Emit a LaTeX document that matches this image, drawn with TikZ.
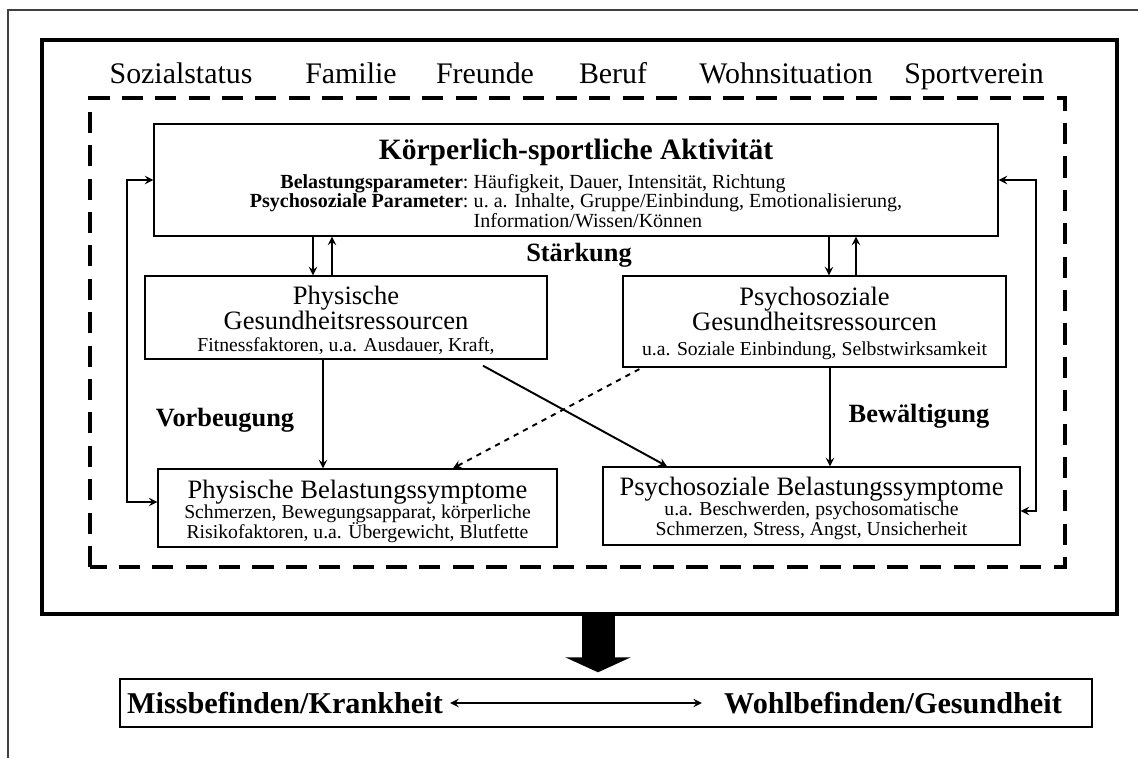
\documentclass[tikz,border=0pt]{standalone}
\usepackage{fontspec}
\setmainfont{Liberation Serif}
\usetikzlibrary{arrows,arrows.meta,positioning}
\newcommand{\akttitle}{\fontsize{16.8}{18}\selectfont\bfseries}
\newcommand{\paramsize}{\fontsize{11.4}{10.8}\selectfont}
\newcommand{\detailsize}{\fontsize{11.2}{12}\selectfont}
\tikzset{
    % Define node styles
    ctxlabel/.style={
        font=\fontsize{17}{20}\selectfont, inner sep=0pt, anchor=base
    },
    mainbox/.style={
        rectangle, draw, line width=0.8pt, inner sep=0pt,
        align=center, font=\fontsize{11.4}{14.8}\selectfont
    },
    resbox/.style={
        rectangle, draw, line width=0.8pt, inner sep=0pt,
        align=center, font=\fontsize{15.1}{14.2}\selectfont
    },
    effectlabel/.style={
        font=\fontsize{15}{18}\selectfont\bfseries, inner sep=0pt
    },
    outcomelabel/.style={
        font=\fontsize{17.2}{20}\selectfont\bfseries, inner sep=0pt
    },
    arrow/.style={
        ->, >=stealth, line width=1.1pt
    },
    fbarrow/.style={
        <->, >=stealth, line width=1.1pt
    }
}
\begin{document}
\begin{tikzpicture}
\useasboundingbox (0,0) rectangle (22.76,15.16);

% Page lines
\draw[line width=0.6pt, black!75] (0.16,0) -- (0.16,14.96) -- (22.76,14.96);

% Setting frame and activity frame
\draw[line width=2.6pt] (0.84,2.88) rectangle (22.34,14.36);
\draw[line width=2.2pt, dash pattern=on 12pt off 7pt] (1.8,3.82) rectangle (21.3,13.2);

% Social context
\node[ctxlabel] (sozial) at (3.62,13.48) {Sozialstatus};
\node[ctxlabel] (familie) at (7.02,13.48) {Familie};
\node[ctxlabel] (freunde) at (9.7,13.48) {Freunde};
\node[ctxlabel] (beruf) at (12.26,13.48) {Beruf};
\node[ctxlabel] (wohnen) at (15.72,13.48) {Wohnsituation};
\node[ctxlabel] (verein) at (19.48,13.48) {Sportverein};

% Activity
\node[mainbox, minimum width=16.88cm, minimum height=2.24cm] (akt) at (11.52,11.56) {%
    {\akttitle\rule{0pt}{18.7pt}Körperlich-sportliche Aktivität}\\[1.5pt]
    {\paramsize\begin{tabular}[t]{@{}r@{\hspace{3pt}}l@{}}
    \textbf{Belastungsparameter}: & Häufigkeit, Dauer, Intensität, Richtung\\
    \textbf{Psychosoziale Parameter}: & u.\ a. Inhalte, Gruppe/Einbindung, Emotionalisierung,\\
     & Information/Wissen/Können
    \end{tabular}\hspace{10pt}}};

% Resources
\node[resbox, minimum width=8.04cm, minimum height=1.66cm] (physres) at (6.92,8.81) {%
    \rule{0pt}{14pt}Physische\\ Gesundheitsressourcen\\[-1.8pt]
    {\detailsize Fitnessfaktoren, u.a. Ausdauer, Kraft,}};
\node[resbox, minimum width=7.66cm, minimum height=1.82cm] (psyres) at (16.29,8.73) {%
    \rule{0pt}{13pt}Psychosoziale\\ Gesundheitsressourcen\\[0pt]
    {\detailsize u.a. Soziale Einbindung, Selbstwirksamkeit}};

% Symptoms
\node[resbox, minimum width=7.98cm, minimum height=1.56cm] (physsym) at (7.15,5.0) {%
    \rule{0pt}{14pt}Physische Belastungssymptome\\[-2.4pt]
    {\detailsize Schmerzen, Bewegungsapparat, körperliche}\\[-3.2pt]
    {\detailsize Risikofaktoren, u.a. Übergewicht, Blutfette}};
\node[resbox, minimum width=8.34cm, minimum height=1.56cm] (psysym) at (16.23,5.04) {%
    \rule{0pt}{13pt}Psychosoziale Belastungssymptome\\[-2.4pt]
    {\detailsize u.a. Beschwerden, psychosomatische}\\[-3.2pt]
    {\detailsize Schmerzen, Stress, Angst, Unsicherheit}};

% Effect labels
\node[effectlabel] (staerkung) at (11.58,10.06) {Stärkung};
\node[effectlabel] (vorbeugung) at (4.5,6.76) {Vorbeugung};
\node[effectlabel] (bewaeltigung) at (18.38,6.84) {Bewältigung};

% Activity <-> resources
\draw[arrow] ([xshift=-0.66cm]physres.north |- akt.south) -- ([xshift=-0.66cm]physres.north);
\draw[arrow] ([xshift=-0.28cm]physres.north) -- ([xshift=-0.28cm]physres.north |- akt.south);
\draw[arrow] ([xshift=0.29cm]psyres.north |- akt.south) -- ([xshift=0.29cm]psyres.north);
\draw[arrow] ([xshift=0.83cm]psyres.north) -- ([xshift=0.83cm]psyres.north |- akt.south);

% Resources -> symptoms
\draw[arrow] ([xshift=-0.46cm]physres.south) -- ([xshift=-0.46cm]physres.south |- physsym.north);
\draw[arrow] ([xshift=0.31cm]psyres.south) -- ([xshift=0.31cm]psyres.south |- psysym.north);
\draw[arrow, shorten <=0.25cm] ([xshift=2.52cm]physres.south) -- ([xshift=-2.89cm]psysym.north);
\draw[arrow, dashed, shorten <=0.06cm] ([xshift=-3.45cm]psyres.south) -- ([xshift=1.91cm]physsym.north);

% Feedback
\coordinate (leftrail) at (2.54,8);
\coordinate (rightrail) at (20.72,8);
\draw[fbarrow] (akt.west) -| (leftrail) |- ([yshift=0.12cm]physsym.west);
\draw[fbarrow] (akt.east) -| (rightrail) |- ([yshift=-0.1cm]psysym.east);

% Outcome
\node[draw, line width=0.8pt, minimum width=19.44cm, minimum height=0.96cm] (outcome) at (12.12,1.1) {};
\node[outcomelabel] (krank) at (5.7,1.1) {Missbefinden/Krankheit};
\node[outcomelabel] (gesund) at (17.86,1.1) {Wohlbefinden/Gesundheit};
\draw[fbarrow, shorten <=0.14cm, shorten >=0.44cm] (krank) -- (gesund);

\coordinate (framebottom) at (11.96,2.88);
\draw[line width=0.66cm, -{Triangle[width=1.3cm,length=0.3cm]}, shorten >=0.12cm] (framebottom) -- (framebottom |- outcome.north);

\end{tikzpicture}
\end{document}
